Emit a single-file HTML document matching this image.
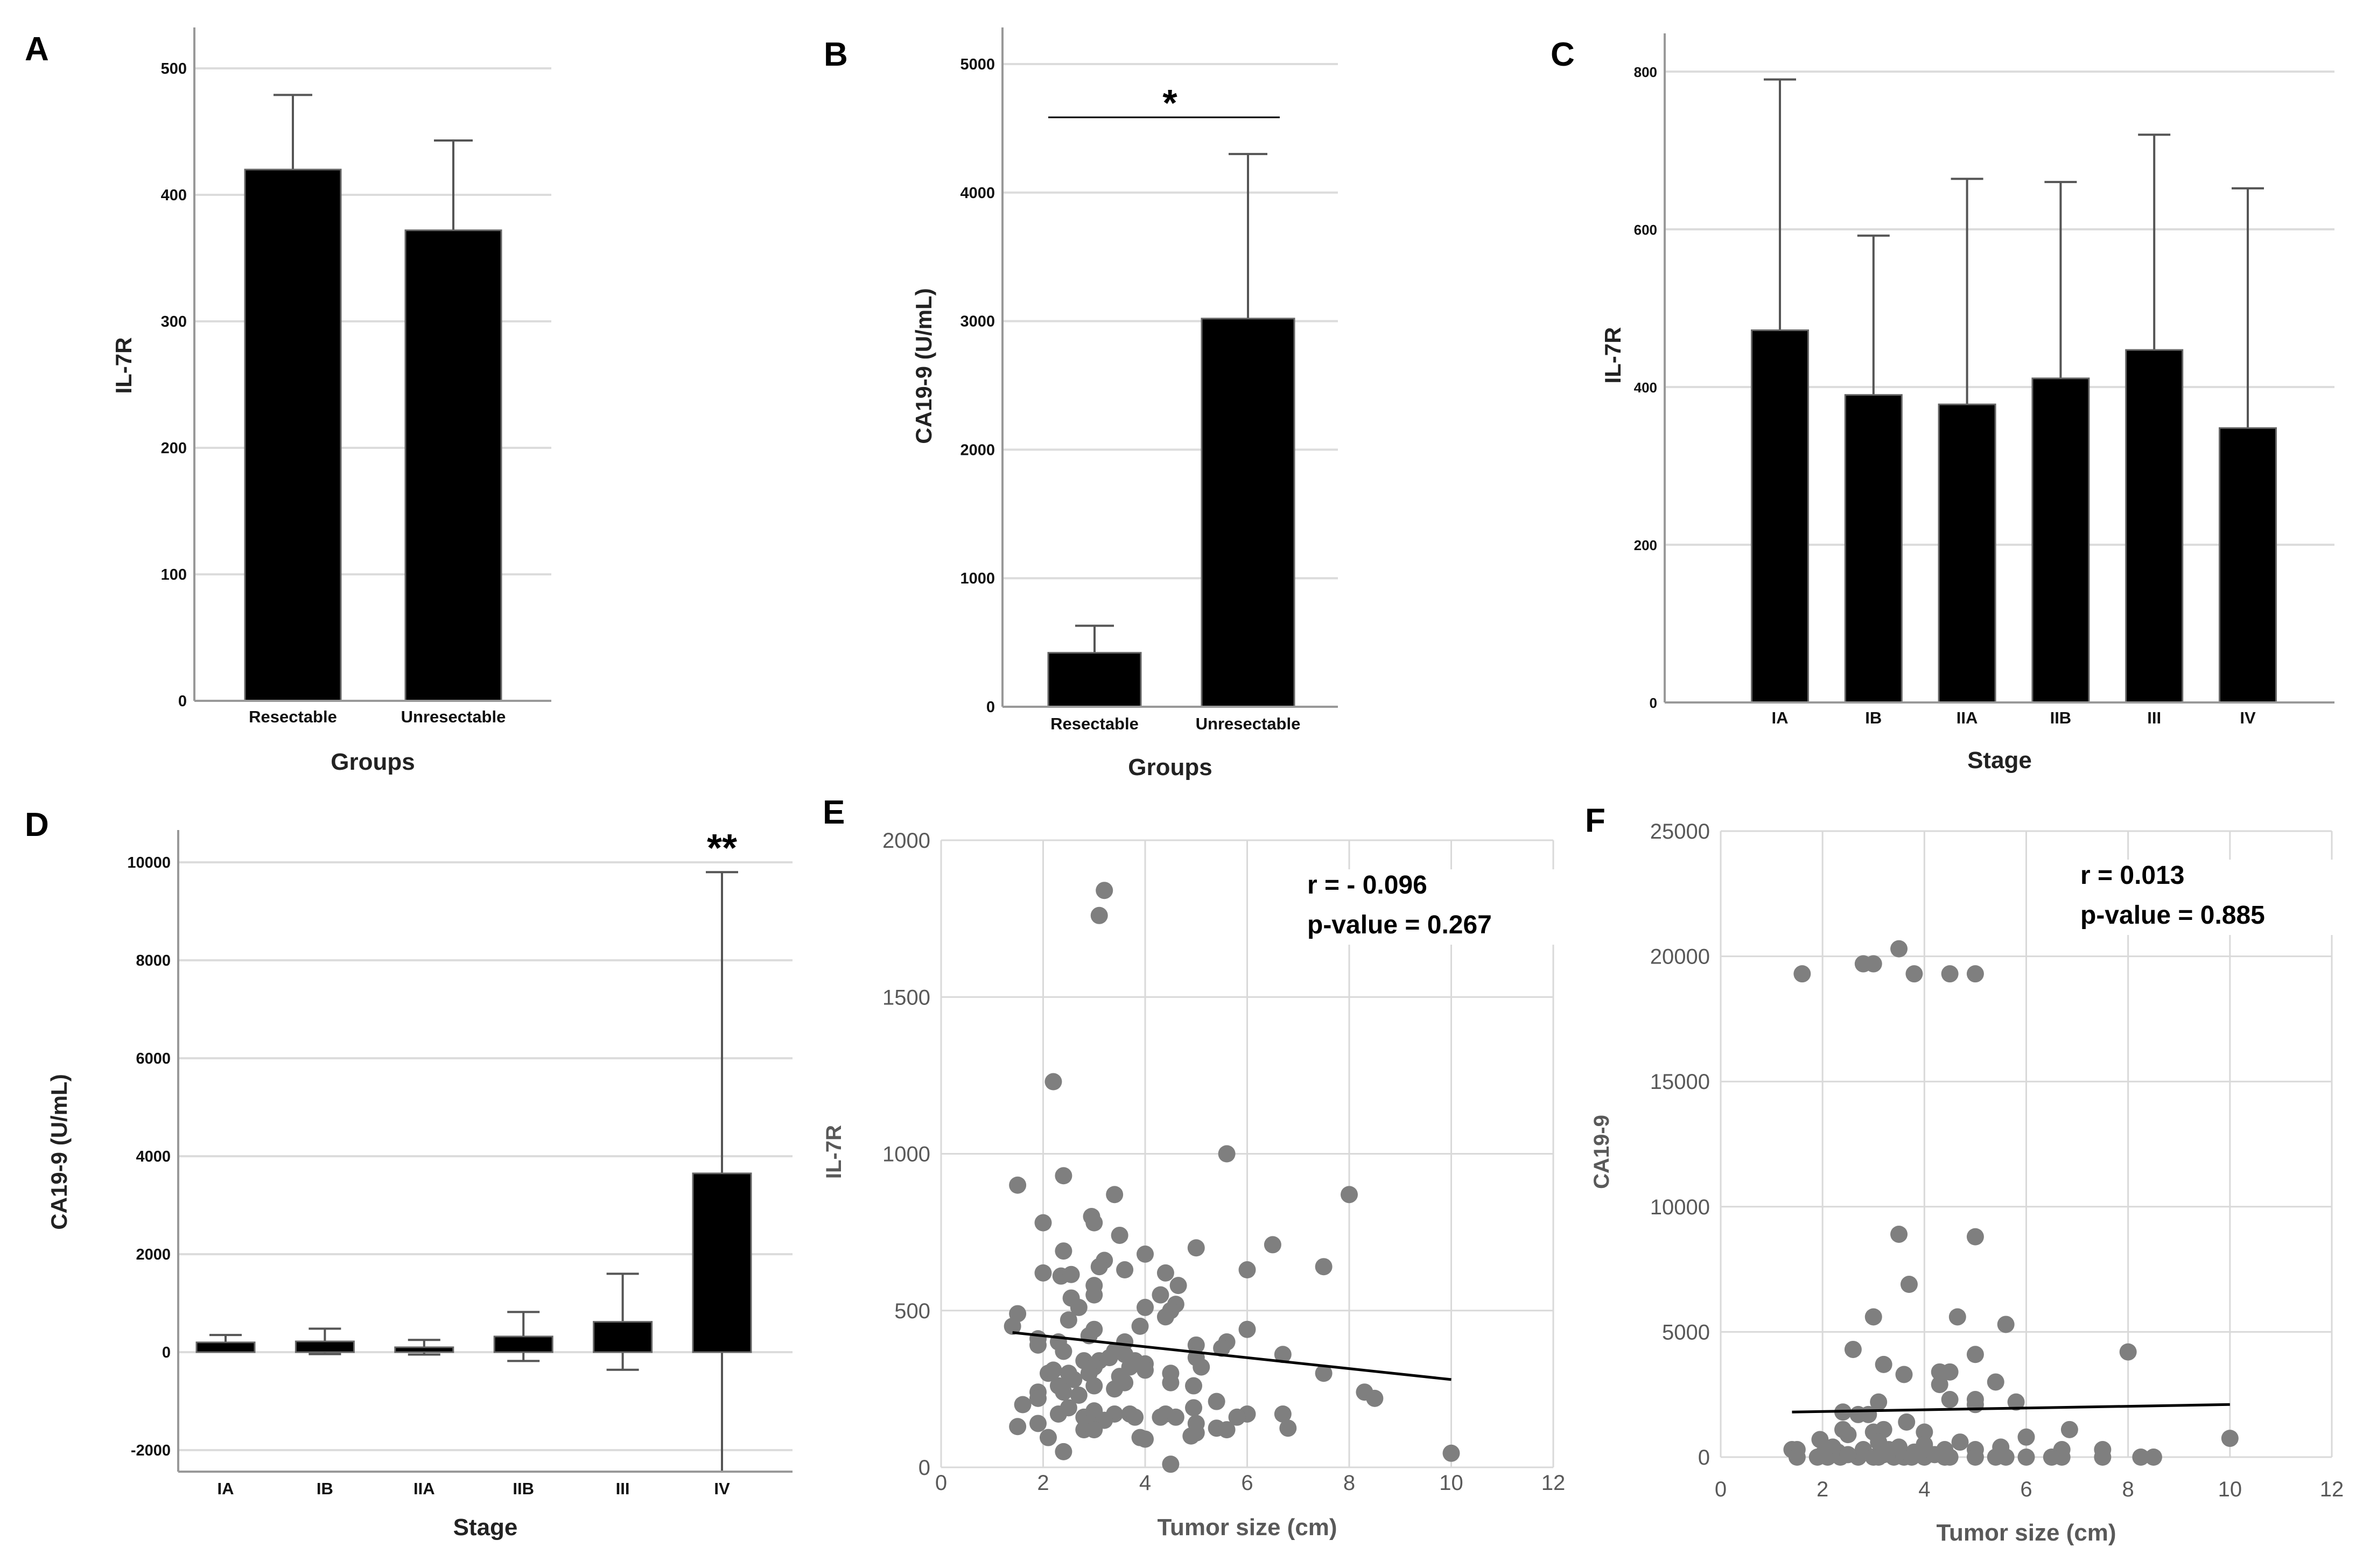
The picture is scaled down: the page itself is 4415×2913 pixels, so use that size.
<!DOCTYPE html>
<html><head><meta charset="utf-8"><style>
html,body{margin:0;padding:0;background:#fff}
svg{display:block}
text{font-family:"Liberation Sans",Arial,sans-serif}
</style></head><body>
<svg id="fig" width="4415" height="2913" viewBox="0 0 4415 2913" xmlns="http://www.w3.org/2000/svg"></svg>
<script>
// ---- Panel A data ----
const aCats = ["Resectable","Unresectable"];
const aVals = [420, 372];
const aErr = [59, 71];
const aTicks = [0,100,200,300,400,500];
// ---- Panel B data ----
const bCats = ["Resectable","Unresectable"];
const bVals = [420, 3020];
const bErr = [210, 1280];
const bTicks = [0,1000,2000,3000,4000,5000];
// ---- Panel C data ----
const cCats = ["IA","IB","IIA","IIB","III","IV"];
const cVals = [472, 390, 378, 411, 447, 348];
const cErr = [318, 202, 286, 249, 273, 304];
const cTicks = [0,200,400,600,800];
// ---- Panel D data ----
const dCats = ["IA","IB","IIA","IIB","III","IV"];
const dVals = [200, 220, 100, 320, 620, 3650];
const dErr = [150, 260, 150, 500, 980, 6150];
const dTicks = [-2000,0,2000,4000,6000,8000,10000];
// ---- Panel E data ----
const eX = [3.2,3.1,2.2,5.6,1.5,2.4,8,3.4,2,2.95,3,3.5,6.5,2.4,4,5,7.5,6,3.2,3.1,3.6,2,2.35,2.55,4.4,4.65,3,3,4.3,2.55,4.6,4.5,2.7,4,1.5,2.5,4.4,1.4,3.9,6,3,2.9,1.9,2.3,3.6,5.6,1.9,5,5.5,3.4,2.4,3.6,3.3,5,6.7,3.1,2.8,3.8,4,3.7,3,5.1,4,2.5,2.1,2.2,4.5,7.5,2.9,3.5,2.6,3.6,4.5,2.3,3,4.95,3.4,1.9,2.7,2.4,8.3,1.9,8.5,5.4,1.6,2.5,4.95,2.3,3,3.4,3.7,4.4,6,6.7,5.8,2.8,3.2,3.8,4.3,4.6,1.5,1.9,2.9,5,2.8,3,5.4,5.6,6.8,2.1,3.9,4,4.9,5,2.4,10,4.5];
const eY = [1840,1760,1230,1000,900,930,870,870,780,800,780,740,710,690,680,700,640,630,660,640,630,620,610,615,620,580,580,550,550,540,520,500,510,510,490,470,480,450,450,440,440,420,410,400,400,400,390,390,380,370,370,360,350,350,360,340,340,340,330,320,320,320,310,300,300,310,300,300,300,290,280,270,270,260,260,260,250,240,230,240,240,220,220,210,200,190,190,170,180,170,170,170,170,170,160,160,150,160,160,160,130,140,140,140,120,120,125,120,125,95,95,90,100,110,50,45,10];
const eFitX = [1.4, 10];
const eFitY = [430, 280];
const eXTicks = [0,2,4,6,8,10,12];
const eYTicks = [0,500,1000,1500,2000];
// ---- Panel F data ----
const fX = [1.6,2.8,3,3.5,3.8,4.5,5,3.5,5,3.7,3,4.65,5.6,2.6,8,5,3.2,3.6,4.3,4.5,4.3,5.4,4.5,5,5.8,3.1,5,2.4,2.7,2.9,3.65,2.4,2.5,3,3.2,4,6.85,1.95,6,10,3.1,4.7,4,2.2,3.5,1.4,1.5,4.4,5,5.5,6.7,7.5,2,2.3,2.8,3.3,3.8,1.5,1.9,2.1,2.35,2.7,3,3.1,3.4,3.6,3.75,4,4.4,4.5,5,5.4,5.6,6,6.5,6.7,7.5,8.25,8.5,2.5,3.2,4.2];
const fY = [19300,19700,19700,20300,19300,19300,19300,8900,8800,6900,5600,5600,5300,4300,4200,4100,3700,3300,3400,3400,2900,3000,2300,2300,2200,2200,2100,1800,1700,1700,1400,1100,900,1000,1100,1000,1100,700,800,750,600,600,500,400,400,300,300,300,300,400,300,300,100,200,300,300,200,0,0,0,0,0,0,0,0,0,0,0,0,0,0,0,0,0,0,0,0,0,0,100,100,100];
const fFitX = [1.4, 10];
const fFitY = [1800, 2100];
const fXTicks = [0,2,4,6,8,10,12];
const fYTicks = [0,5000,10000,15000,20000,25000];

const NS = "http://www.w3.org/2000/svg";
const svg = document.getElementById("fig");
function mk(tag, attrs, parent){
  const e = document.createElementNS(NS, tag);
  for (const k in attrs) e.setAttribute(k, attrs[k]);
  (parent||svg).appendChild(e);
  return e;
}
function txt(s, attrs, parent){ const t = mk("text", attrs, parent); t.textContent = s; return t; }

function barPanel(id, L, cats, vals, errs, ticks, lo, hi, twoSided, xTitle, yTitle){
  const g = mk("g", {});
  
  
  const y = v => L.y0 + (v - lo) / (hi - lo) * (L.y1 - L.y0);
  const x = i => L.c0 + i * L.step;
  const tf = L.tickFont || 29;
  ticks.forEach(t => {
    if (t !== lo || L.gridAtLo) {
      const gl = mk("line", {x1:L.x0, x2:L.x1, y1:y(t), y2:y(t), stroke:"#dcdcdc", "stroke-width":4}, g);
      
      
    }
    const tl = txt(String(t), {x:L.x0-14, y:y(t)+10, "text-anchor":"end", "font-size":tf, "font-weight":"bold", fill:"#111"}, g);
    
    
  });
  const zeroY = y(0);
  cats.forEach((c, i) => {
    const cx = x(i), top = y(vals[i]), eTop = y(vals[i] + errs[i]);
    const w = mk("line", {x1:cx, x2:cx, y1:eTop, y2: twoSided ? Math.min(y(vals[i]-errs[i]), L.axB) : top, stroke:"#555", "stroke-width":4}, g);
    
    
    const cap = mk("line", {x1:cx-L.cap, x2:cx+L.cap, y1:eTop, y2:eTop, stroke:"#555", "stroke-width":4}, g);
    
    
    if (twoSided && y(vals[i]-errs[i]) < L.axB) {
      const lc = mk("line", {x1:cx-L.cap, x2:cx+L.cap, y1:y(vals[i]-errs[i]), y2:y(vals[i]-errs[i]), stroke:"#555", "stroke-width":4}, g);
      
      
    }
    const b = mk("rect", {x:cx-L.bw/2, y:Math.min(top,zeroY), width:L.bw, height:Math.abs(zeroY-top), fill:"#000", stroke:"#666", "stroke-width":3}, g);
    
    
    const xl = txt(c, {x:cx, y:L.xlY, "text-anchor":"middle", "font-size":31, "font-weight":"bold", fill:"#111"}, g);
    
    
  });
  const ax = mk("line", {x1:L.x0, x2:L.x0, y1:L.axT, y2:L.axB, stroke:"#999", "stroke-width":4}, g);
  
  
  const bx = mk("line", {x1:L.x0, x2:L.x1, y1:L.axB, y2:L.axB, stroke:"#999", "stroke-width":4}, g);
  
  
  const xt = txt(xTitle, {x:(L.x0+L.x1)/2, y:L.xtY, "text-anchor":"middle", "font-size":44, "font-weight":"bold", fill:"#222"}, g);
  
  
  const yt = txt(yTitle, {x:0, y:0, transform:"translate("+L.ytX+","+L.ytY+") rotate(-90)", "text-anchor":"middle", "font-size":42, "font-weight":"bold", fill:"#222"}, g);
  
  
  const pl = txt(L.letter, {x:L.lx, y:L.ly, "font-size":62, "font-weight":"bold", fill:"#000"}, g);
  
  
  return {g, x, y};
}

// A
barPanel("a", {x0:361,x1:1024,y0:1302,y1:127,axT:51,axB:1302,c0:544,step:298,bw:178,cap:36,xlY:1342,xtY:1430,ytX:244,ytY:679,letter:"A",lx:46,ly:112},
  aCats, aVals, aErr, aTicks, 0, 500, false, "Groups", "IL-7R");
// B
barPanel("b", {x0:1862,x1:2485,y0:1313,y1:119,axT:51,axB:1313,c0:2033,step:285,bw:172,cap:36,xlY:1355,xtY:1440,ytX:1730,ytY:680,letter:"B",lx:1530,ly:122},
  bCats, bVals, bErr, bTicks, 0, 5000, false, "Groups", "CA19-9 (U/mL)");
const sig = mk("line", {x1:1947, x2:2377, y1:218, y2:218, stroke:"#000", "stroke-width":3});


const st = txt("*", {x:2173, y:215, "text-anchor":"middle", "font-size":70, "font-weight":"bold"});


// C
barPanel("c", {x0:3092,x1:4336,y0:1305,y1:133,axT:62,axB:1305,c0:3306,step:173.8,bw:105,cap:30,tickFont:26,xlY:1344,xtY:1427,ytX:3010,ytY:660,letter:"C",lx:2880,ly:122},
  cCats, cVals, cErr, cTicks, 0, 800, false, "Stage", "IL-7R");
// D
barPanel("d", {x0:331,x1:1472,y0:2694,y1:1602,axT:1542,axB:2734,c0:419,step:184.4,bw:108,cap:30,gridAtLo:true,xlY:2776,xtY:2852,ytX:124,ytY:2140,letter:"D",lx:46,ly:1553},
  dCats, dVals, dErr, dTicks, -2000, 10000, true, "Stage", "CA19-9 (U/mL)");
const dst = txt("**", {x:1341, y:1600, "text-anchor":"middle", "font-size":72, "font-weight":"bold"});



function scatterPanel(id, L, xs, ys, fx, fy, xt, yt, ymax, yTitle, ann1, ann2){
  const g = mk("g", {});
  
  
  const X = v => L.x0 + v / 12 * (L.x1 - L.x0);
  const Y = v => L.y0 - v / ymax * (L.y0 - L.yT);
  xt.forEach(t => {
    const gl = mk("line", {x1:X(t), x2:X(t), y1:L.yT, y2:L.y0, stroke:"#d9d9d9", "stroke-width":3}, g);
    
    
    const tl = txt(String(t), {x:X(t), y:L.xlY, "text-anchor":"middle", "font-size":40, fill:"#595959"}, g);
    
    
  });
  yt.forEach(t => {
    const gl = mk("line", {x1:L.x0, x2:L.x1, y1:Y(t), y2:Y(t), stroke:"#d9d9d9", "stroke-width":3}, g);
    
    
    const tl = txt(String(t), {x:L.x0-20, y:Y(t)+14, "text-anchor":"end", "font-size":40, fill:"#595959"}, g);
    
    
  });
  const bg = mk("rect", {x:L.ax-10, y:L.ay1-45, width:480, height:140, fill:"#fff"}, g);
  
  
  xs.forEach((v, i) => {
    const c = mk("circle", {cx:X(v), cy:Y(ys[i]), r:16, fill:"#7f7f7f"}, g);
    
    
  });
  const fl = mk("line", {x1:X(fx[0]), y1:Y(fy[0]), x2:X(fx[1]), y2:Y(fy[1]), stroke:"#000", "stroke-width":5}, g);
  
  
  const a1 = txt(ann1, {x:L.ax, y:L.ay1, "font-size":48, "font-weight":"bold", fill:"#000"}, g);
  
  
  const a2 = txt(ann2, {x:L.ax, y:L.ay1+74, "font-size":48, "font-weight":"bold", fill:"#000"}, g);
  
  
  const xtt = txt("Tumor size (cm)", {x:(L.x0+L.x1)/2, y:L.xtY, "text-anchor":"middle", "font-size":44, "font-weight":"bold", fill:"#595959"}, g);
  
  
  const ytt = txt(yTitle, {x:0, y:0, transform:"translate("+L.ytX+","+L.ytY+") rotate(-90)", "text-anchor":"middle", "font-size":40, "font-weight":"bold", fill:"#595959"}, g);
  
  
  const pl = txt(L.letter, {x:L.lx, y:L.ly, "font-size":62, "font-weight":"bold", fill:"#000"}, g);
  
  
}
scatterPanel("e", {x0:1748,x1:2885,yT:1561,y0:2726,xlY:2768,xtY:2852,ytX:1562,ytY:2140,ax:2428,ay1:1660,letter:"E",lx:1528,ly:1530},
  eX, eY, eFitX, eFitY, eXTicks, eYTicks, 2000, "IL-7R", "r = - 0.096", "p-value = 0.267");
scatterPanel("f", {x0:3196,x1:4331,yT:1544,y0:2707,xlY:2780,xtY:2862,ytX:2988,ytY:2140,ax:3864,ay1:1642,letter:"F",lx:2944,ly:1545},
  fX, fY, fFitX, fFitY, fXTicks, fYTicks, 25000, "CA19-9", "r = 0.013", "p-value = 0.885");
</script>
</body></html>
